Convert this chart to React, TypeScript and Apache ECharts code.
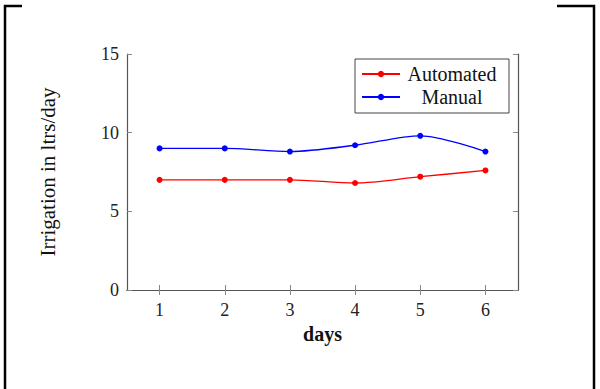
import React, { useEffect, useRef } from "react";
import * as echarts from "echarts";

const days = ["1", "2", "3", "4", "5", "6"];
const automated = [7, 7, 7, 6.8, 7.2, 7.6];
const manual = [9, 9, 8.8, 9.2, 9.8, 8.8];
const yTicks = { min: 0, max: 15, interval: 5 };

const FONT = "Liberation Serif";
const AXIS_COLOR = "#555";

export default function App() {
  const ref = useRef<HTMLDivElement>(null);
  useEffect(() => {
    if (!ref.current) return;
    const chart = echarts.init(ref.current, null, { renderer: "svg" });
    const axisLine = { show: true, lineStyle: { color: AXIS_COLOR, width: 1.2 } };
    const tick = { show: true, inside: true, length: 5, lineStyle: { color: "#888", width: 1 } };
    chart.setOption({
      animation: false,
      backgroundColor: "#fff",
      grid: { left: 127, right: 82, top: 54, bottom: 99, containLabel: false },
      legend: {
        orient: "vertical",
        left: 355,
        top: 59,
        padding: [5, 10, 6, 6],
        itemGap: 3,
        itemWidth: 38,
        itemHeight: 8,
        borderColor: "#444",
        borderWidth: 1,
        backgroundColor: "#fff",
        data: ["Automated", "Manual"],
        formatter: (name: string) => `{c|${name}}`,
        textStyle: {
          fontFamily: FONT,
          fontSize: 20,
          color: "#111",
          rich: { c: { width: 94, align: "center", fontFamily: FONT, fontSize: 20, lineHeight: 24, color: "#111" } },
        },
      },
      xAxis: [
        {
          type: "category",
          data: days,
          boundaryGap: true,
          position: "bottom",
          axisLine,
          axisTick: { ...tick, alignWithLabel: true },
          axisLabel: { fontFamily: FONT, fontSize: 18, color: "#222", margin: 11 },
          name: "days",
          nameLocation: "middle",
          nameGap: 34,
          nameTextStyle: { fontFamily: FONT, fontSize: 20, fontWeight: "bold", color: "#111" },
          splitLine: { show: false },
        },
        {
          type: "category",
          data: days,
          boundaryGap: true,
          position: "top",
          axisLine,
          axisTick: { ...tick, alignWithLabel: true },
          axisLabel: { show: false },
          splitLine: { show: false },
        },
      ],
      yAxis: [
        {
          type: "value",
          ...yTicks,
          position: "left",
          axisLine,
          axisTick: tick,
          axisLabel: { fontFamily: FONT, fontSize: 18, color: "#222", margin: 8 },
          splitLine: { show: false },
          name: "Irrigation in ltrs/day",
          nameLocation: "middle",
          nameGap: 69,
          nameTextStyle: { fontFamily: FONT, fontSize: 21, color: "#111" },
        },
        {
          type: "value",
          ...yTicks,
          position: "right",
          axisLine,
          axisTick: tick,
          axisLabel: { show: false },
          splitLine: { show: false },
        },
      ],
      graphic: [
        {
          type: "polyline",
          shape: { points: [[22, 6], [5, 6], [5, 389]] },
          style: { stroke: "#000", lineWidth: 2.5, fill: null },
        },
        {
          type: "polyline",
          shape: { points: [[557, 6], [594, 6], [594, 389]] },
          style: { stroke: "#000", lineWidth: 2.5, fill: null },
        },
      ],
      series: [
        {
          name: "Automated",
          type: "line",
          data: automated,
          smooth: 0.3,
          symbol: "circle",
          symbolSize: 6,
          itemStyle: { color: "#f00" },
          lineStyle: { color: "#f00", width: 1.3 },
        },
        {
          name: "Manual",
          type: "line",
          data: manual,
          smooth: 0.3,
          symbol: "circle",
          symbolSize: 6,
          itemStyle: { color: "#00f" },
          lineStyle: { color: "#00f", width: 1.3 },
        },
      ],
    });
    return () => chart.dispose();
  }, []);
  return <div ref={ref} style={{ width: 600, height: 389, position: "fixed", left: 0, top: 0 }} />;
}
